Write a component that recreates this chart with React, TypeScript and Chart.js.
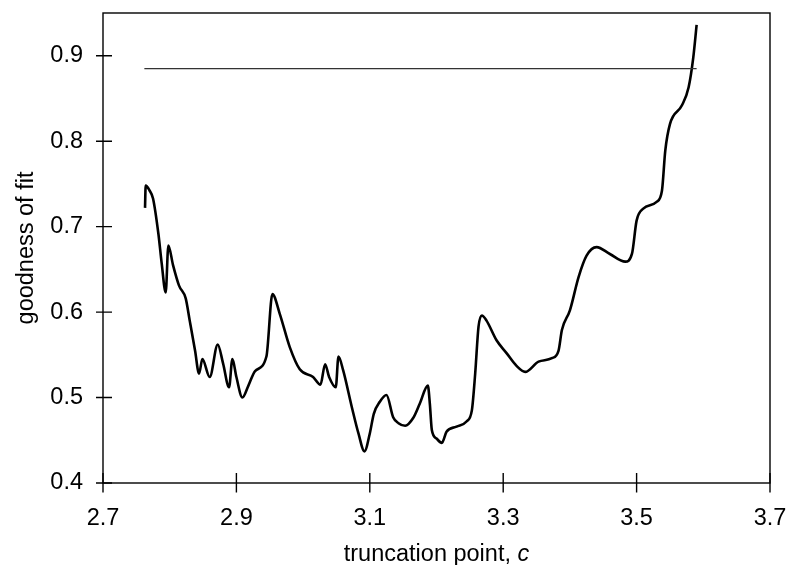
import { useEffect, useRef } from 'react'
import { Chart, registerables, type Plugin, type Scale } from 'chart.js'

Chart.register(...registerables)

// ─── Data ──────────────────────────────────────────────────────────────────

const X_TICKS = [2.7, 2.9, 3.1, 3.3, 3.5, 3.7]
const Y_TICKS = [0.4, 0.5, 0.6, 0.7, 0.8, 0.9]

// truncation point c
const CURVE_C = [
  2.763, 2.764, 2.770, 2.775, 2.783, 2.788, 2.794, 2.798, 2.805, 2.814,
  2.824, 2.830, 2.838, 2.844, 2.849, 2.860, 2.872, 2.880, 2.889, 2.894,
  2.900, 2.909, 2.918, 2.928, 2.945, 2.954, 2.965, 2.980, 2.995, 3.015,
  3.026, 3.033, 3.039, 3.049, 3.053, 3.060, 3.073, 3.083, 3.092, 3.100,
  3.106, 3.115, 3.125, 3.135, 3.143, 3.153, 3.165, 3.175, 3.187, 3.190,
  3.193, 3.200, 3.208, 3.215, 3.230, 3.245, 3.253, 3.258, 3.263, 3.268,
  3.275, 3.290, 3.305, 3.320, 3.333, 3.353, 3.373, 3.383, 3.388, 3.400,
  3.413, 3.425, 3.440, 3.460, 3.483, 3.493, 3.500, 3.510, 3.530, 3.538,
  3.543, 3.550, 3.568, 3.578, 3.585, 3.590,
]

// goodness of fit
const CURVE_FIT = [
  0.722, 0.748, 0.742, 0.733, 0.692, 0.657, 0.623, 0.678, 0.655, 0.631,
  0.616, 0.590, 0.555, 0.528, 0.545, 0.524, 0.562, 0.540, 0.512, 0.545,
  0.524, 0.500, 0.514, 0.531, 0.548, 0.621, 0.598, 0.559, 0.533, 0.524,
  0.515, 0.539, 0.524, 0.512, 0.548, 0.532, 0.489, 0.458, 0.437, 0.458,
  0.481, 0.495, 0.503, 0.477, 0.470, 0.467, 0.476, 0.493, 0.514, 0.493,
  0.462, 0.452, 0.447, 0.460, 0.466, 0.472, 0.485, 0.528, 0.583, 0.596,
  0.590, 0.567, 0.552, 0.537, 0.530, 0.542, 0.546, 0.555, 0.579, 0.602,
  0.641, 0.666, 0.676, 0.668, 0.659, 0.668, 0.707, 0.721, 0.729, 0.742,
  0.789, 0.820, 0.842, 0.863, 0.898, 0.936,
]

// flat reference level
const REF_C = [2.762, 3.590]
const REF_FIT = [0.885, 0.885]

const X_TITLE = 'truncation point, '
const X_TITLE_VAR = 'c'
const Y_TITLE = 'goodness of fit'

// ─── Styling ───────────────────────────────────────────────────────────────

const FONT_FAMILY = '"Liberation Sans", Arial, Helvetica, sans-serif'
const TICK_FONT = 23.5
const TITLE_FONT = 23.5

// Scale boxes get a fixed size and no extra edge padding, so the plot area
// lands where the reference has it.
function fixBox(s: Scale, w: number | null, h: number | null) {
  if (w !== null) s.width = w
  if (h !== null) s.height = h
  s.paddingLeft = 0
  s.paddingRight = 0
  s.paddingTop = 0
  s.paddingBottom = 0
}

// Box frame, cross-axis tick marks and the two axis titles.
const framePlugin: Plugin<'line'> = {
  id: 'frame',
  afterDraw(chart) {
    const { ctx, chartArea: a } = chart
    const xs = chart.scales.x
    const ys = chart.scales.y
    ctx.save()
    ctx.strokeStyle = '#000'
    ctx.lineWidth = 1.4
    ctx.strokeRect(a.left, a.top, a.right - a.left, a.bottom - a.top)

    ctx.beginPath()
    for (const v of X_TICKS) {
      const px = xs.getPixelForValue(v)
      ctx.moveTo(px, a.bottom - 10)
      ctx.lineTo(px, a.bottom + 9.5)
    }
    for (const v of Y_TICKS) {
      const py = ys.getPixelForValue(v)
      ctx.moveTo(a.left - 7, py)
      ctx.lineTo(a.left + 9, py)
    }
    ctx.stroke()

    ctx.fillStyle = '#000'
    ctx.textBaseline = 'alphabetic'
    ctx.textAlign = 'left'
    const normal = `${TITLE_FONT}px ${FONT_FAMILY}`
    const italic = `italic ${TITLE_FONT}px ${FONT_FAMILY}`
    ctx.font = normal
    const w1 = ctx.measureText(X_TITLE).width
    ctx.font = italic
    const w2 = ctx.measureText(X_TITLE_VAR).width
    const x0 = (a.left + a.right) / 2 - (w1 + w2) / 2
    ctx.font = normal
    ctx.fillText(X_TITLE, x0, 561)
    ctx.font = italic
    ctx.fillText(X_TITLE_VAR, x0 + w1, 561)

    ctx.font = normal
    ctx.translate(27, (a.top + a.bottom) / 2)
    ctx.rotate(-Math.PI / 2)
    ctx.textAlign = 'center'
    ctx.textBaseline = 'middle'
    ctx.fillText(Y_TITLE, 0, 0)
    ctx.restore()
  },
}

export default function App() {
  const canvasRef = useRef<HTMLCanvasElement>(null)

  useEffect(() => {
    const canvas = canvasRef.current
    if (!canvas) return

    const chart = new Chart(canvas, {
      type: 'line',
      data: {
        datasets: [
          {
            data: REF_C.map((c, i) => ({ x: c, y: REF_FIT[i] })),
            borderColor: '#333',
            borderWidth: 1.3,
            pointRadius: 0,
            tension: 0,
          },
          {
            data: CURVE_C.map((c, i) => ({ x: c, y: CURVE_FIT[i] })),
            borderColor: '#000',
            borderWidth: 2.6,
            pointRadius: 0,
            cubicInterpolationMode: 'monotone',
          },
        ],
      },
      options: {
        animation: false,
        responsive: true,
        maintainAspectRatio: false,
        layout: { padding: { top: 13, right: 21, left: 0, bottom: 0 } },
        plugins: {
          legend: { display: false },
          tooltip: { enabled: false },
        },
        scales: {
          x: {
            type: 'linear',
            min: 2.7,
            max: 3.7,
            afterFit: (s) => fixBox(s, null, 82),
            afterBuildTicks: (s) => { s.ticks = X_TICKS.map(value => ({ value })) },
            grid: { display: false, drawTicks: false },
            border: { display: false },
            ticks: {
              padding: 21,
              color: '#000',
              maxRotation: 0,
              autoSkip: false,
              font: { size: TICK_FONT, family: FONT_FAMILY },
              callback: (v) => Number(v).toFixed(1),
            },
          },
          y: {
            type: 'linear',
            min: 0.4,
            max: 0.95,
            afterFit: (s) => fixBox(s, 103, null),
            afterBuildTicks: (s) => { s.ticks = Y_TICKS.map(value => ({ value })) },
            grid: { display: false, drawTicks: false },
            border: { display: false },
            ticks: {
              padding: 20,
              color: '#000',
              autoSkip: false,
              font: { size: TICK_FONT, family: FONT_FAMILY },
              callback: (v) => Number(v).toFixed(1),
            },
          },
        },
      },
      plugins: [framePlugin],
    })

    return () => chart.destroy()
  }, [])

  return (
    <div style={{ position: 'fixed', left: 0, top: 0, width: 791, height: 565, background: '#fff' }}>
      <canvas ref={canvasRef} style={{ display: 'block', width: '100%', height: '100%' }} />
    </div>
  )
}
